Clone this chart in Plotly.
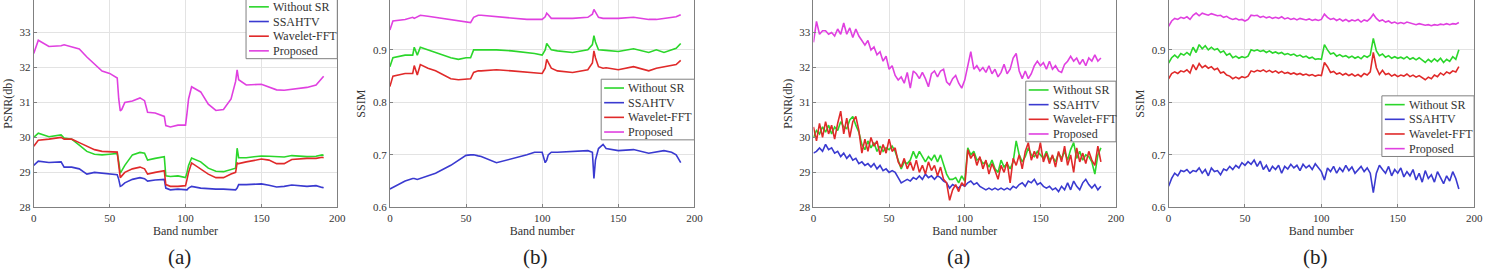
import plotly.graph_objects as go

# ---------------- data ----------------
SERIES = ["Without SR", "SSAHTV", "Wavelet-FFT", "Proposed"]
COLORS = {"Without SR": "#2bd62b", "SSAHTV": "#3a3ad0", "Wavelet-FFT": "#e02a2a", "Proposed": "#e040e0"}

# Panel 1 (PSNR, smooth)
P1_BANDS = [0, 3, 10, 18, 20, 25, 30, 35, 40, 45, 50, 55, 56, 57, 58, 60, 65, 70, 73, 75, 80, 86, 87, 90, 95,
            100, 101, 102, 104, 110, 115, 120, 125, 130, 133, 134, 135, 140, 150, 155, 160, 165, 170, 180, 186, 190, 191]
P1_WITHOUT_SR = [30.0, 30.12, 30.02, 30.07, 29.98, 29.95, 29.78, 29.6, 29.52, 29.5, 29.52, 29.54, 29.3, 28.98, 29.05,
                 29.2, 29.5, 29.57, 29.55, 29.35, 29.4, 29.45, 28.9, 28.88, 28.9, 28.85, 29.0, 29.2, 29.41, 29.3,
                 29.12, 29.03, 29.02, 29.08, 29.12, 29.69, 29.42, 29.42, 29.47, 29.46, 29.45, 29.44, 29.48, 29.45,
                 29.46, 29.5, 29.48]
P1_SSAHTV = [29.2, 29.32, 29.28, 29.3, 29.15, 29.15, 29.1, 28.95, 29.0, 28.97, 28.95, 28.93, 28.8, 28.6, 28.62,
             28.7, 28.8, 28.85, 28.82, 28.75, 28.78, 28.8, 28.55, 28.5, 28.52, 28.52, 28.5, 28.55, 28.6, 28.55,
             28.53, 28.52, 28.52, 28.52, 28.5, 28.55, 28.65, 28.65, 28.67, 28.63, 28.58, 28.6, 28.64, 28.6,
             28.62, 28.57, 28.56]
P1_WAVELET = [29.75, 29.92, 29.95, 30.0, 29.95, 29.95, 29.85, 29.75, 29.65, 29.6, 29.58, 29.58, 29.2, 28.85, 28.9,
              29.0, 29.1, 29.15, 29.1, 28.95, 29.0, 29.05, 28.65, 28.6, 28.6, 28.62, 28.8, 29.0, 29.27, 29.1,
              28.95, 28.85, 28.85, 28.95, 29.0, 29.27, 29.25, 29.3, 29.38, 29.35, 29.25, 29.25, 29.37, 29.4,
              29.4, 29.43, 29.42]
P1_PROPOSED = [32.4, 32.78, 32.6, 32.62, 32.65, 32.6, 32.53, 32.3, 32.1, 31.9, 31.83, 31.7, 31.1, 30.76, 30.8,
               31.0, 31.04, 31.13, 31.05, 30.72, 30.7, 30.6, 30.34, 30.3, 30.35, 30.35, 30.7, 31.1, 31.45, 31.3,
               30.95, 30.77, 30.8, 31.1, 31.6, 31.93, 31.65, 31.5, 31.52, 31.45, 31.36, 31.35, 31.38, 31.43,
               31.5, 31.7, 31.75]

# Panel 2 (SSIM, smooth)
P2_BANDS = [0, 2, 10, 15, 16, 18, 20, 25, 30, 40, 45, 50, 53, 55, 58, 60, 70, 80, 90, 95, 100, 102, 103, 104, 106,
            110, 120, 130, 133, 134, 135, 137, 140, 142, 150, 160, 170, 175, 180, 185, 188, 191]
P2_WITHOUT_SR = [0.868, 0.885, 0.89, 0.89, 0.905, 0.89, 0.905, 0.9, 0.895, 0.885, 0.882, 0.885, 0.885, 0.9, 0.9,
                 0.9, 0.9, 0.898, 0.895, 0.893, 0.89, 0.9, 0.912, 0.908, 0.9, 0.898, 0.895, 0.9, 0.91, 0.927,
                 0.915, 0.9, 0.9, 0.899, 0.897, 0.902, 0.895, 0.9, 0.895, 0.9, 0.903, 0.912]
P2_SSAHTV = [0.635, 0.638, 0.65, 0.655, 0.655, 0.653, 0.655, 0.66, 0.665, 0.68, 0.69, 0.699, 0.7, 0.7, 0.698,
             0.697, 0.685, 0.692, 0.7, 0.705, 0.705, 0.685, 0.69, 0.7, 0.705, 0.705, 0.707, 0.708, 0.705, 0.655,
             0.69, 0.712, 0.72, 0.712, 0.708, 0.71, 0.703, 0.706, 0.708, 0.705, 0.7, 0.685]
P2_WAVELET = [0.83, 0.85, 0.855, 0.855, 0.87, 0.852, 0.872, 0.865, 0.86, 0.845, 0.843, 0.845, 0.845, 0.857, 0.86,
              0.86, 0.862, 0.86, 0.858, 0.856, 0.855, 0.865, 0.882, 0.876, 0.865, 0.86, 0.857, 0.862, 0.875,
              0.898, 0.885, 0.868, 0.865, 0.866, 0.862, 0.868, 0.86, 0.865, 0.868, 0.87, 0.872, 0.88]
P2_PROPOSED = [0.938, 0.955, 0.958, 0.962, 0.96, 0.963, 0.966, 0.964, 0.962, 0.958, 0.956, 0.953, 0.952, 0.962,
               0.966, 0.966, 0.963, 0.961, 0.958, 0.958, 0.958, 0.963, 0.97, 0.967, 0.96, 0.96, 0.96, 0.962,
               0.968, 0.977, 0.972, 0.962, 0.96, 0.96, 0.96, 0.962, 0.958, 0.958, 0.96, 0.962, 0.963, 0.967]

# Panels 3 and 4 (noisy), every second band
NOISY_BANDS = list(range(0, 192, 2))
P3_WITHOUT_SR = [30.0, 30.2, 30.1, 30.3, 30.15, 30.35, 30.1, 30.3, 30.2, 30.45, 30.3, 30.25, 30.5, 30.6, 30.35,
                 30.15, 29.8, 29.65, 29.9, 29.7, 29.85, 29.6, 29.75, 29.6, 29.7, 29.65, 29.75, 29.6, 29.35, 29.1,
                 29.3, 29.25, 29.35, 29.6, 29.4, 29.6, 29.45, 29.3, 29.45, 29.35, 29.5, 29.3, 29.5, 29.2, 28.95,
                 28.8, 28.8, 28.85, 28.7, 28.9, 28.75, 29.7, 29.5, 29.6, 29.35, 29.4, 29.25, 29.3, 29.15, 29.35,
                 29.1, 29.0, 29.35, 29.15, 29.25, 29.1, 29.3, 29.9, 29.5, 29.3, 29.45, 29.7, 29.5, 29.45, 29.6,
                 29.5, 29.4, 29.6, 29.35, 29.45, 29.3, 29.55, 29.4, 29.6, 29.35, 29.65, 29.85, 29.4, 29.6, 29.35,
                 29.5, 29.45, 29.3, 28.95, 29.5, 29.7]
P3_SSAHTV = [29.55, 29.6, 29.7, 29.6, 29.8, 29.65, 29.7, 29.55, 29.6, 29.45, 29.55, 29.4, 29.5, 29.35, 29.4,
             29.25, 29.3, 29.2, 29.25, 29.15, 29.25, 29.1, 29.2, 29.05, 29.1, 29.0, 29.05, 29.0, 28.85, 28.7,
             28.75, 28.8, 28.75, 28.85, 28.8, 28.9, 28.8, 28.95, 28.85, 28.9, 28.8, 28.9, 28.85, 28.75, 28.7,
             28.55, 28.65, 28.6, 28.55, 28.65, 28.6, 28.7, 28.75, 28.65, 28.7, 28.6, 28.55, 28.5, 28.55, 28.5,
             28.55, 28.5, 28.55, 28.5, 28.55, 28.5, 28.6, 28.55, 28.65, 28.7, 28.6, 28.75, 28.7, 28.8, 28.65,
             28.7, 28.6, 28.55, 28.6, 28.5, 28.55, 28.45, 28.6, 28.5, 28.7, 28.5, 28.75, 28.6, 28.5, 28.7,
             28.8, 28.65, 28.55, 28.65, 28.5, 28.6]
P3_WAVELET = [30.3, 29.9, 30.4, 30.0, 30.45, 30.1, 30.35, 29.95, 30.4, 30.75, 30.1, 30.55, 30.0, 30.45, 30.6,
              30.2, 29.55, 29.95, 29.6, 30.0, 29.75, 29.9, 29.5, 29.8, 29.55, 29.95, 29.6, 29.7, 29.3, 29.15,
              29.4, 29.1, 29.3, 29.05, 29.35, 29.0, 29.2, 28.95, 29.3, 29.05, 29.2, 28.9, 29.15, 28.8, 28.7,
              28.2, 28.5, 28.65, 28.45, 28.7, 28.6, 29.65, 29.4, 29.55, 29.2, 29.45, 29.1, 29.35, 28.95, 29.25,
              29.05, 28.8, 29.2, 29.0, 29.3, 28.7, 29.4, 29.2, 29.5, 29.1, 29.6, 29.85, 29.35, 29.6, 29.4,
              29.85, 29.3, 29.55, 29.25, 29.5, 29.15, 29.6, 29.3, 29.75, 29.2, 29.5, 29.0, 29.7, 29.3, 29.55,
              29.25, 29.6, 29.35, 29.2, 29.75, 29.3]
P3_PROPOSED = [32.72, 33.32, 32.95, 33.05, 33.05, 32.95, 33.0, 32.9, 33.1, 32.95, 33.27, 32.95, 33.13, 32.86,
               33.1, 32.9, 32.77, 32.64, 32.77, 32.5, 32.59, 32.36, 32.45, 32.18, 32.32, 31.95, 32.05, 31.77,
               31.64, 31.73, 31.55, 31.86, 31.41, 31.9, 31.82, 31.68, 31.86, 31.68, 31.45, 31.82, 31.9, 31.73,
               31.9, 31.95, 31.59, 31.5, 31.68, 31.77, 31.55, 31.41, 31.64, 32.05, 32.45, 31.95, 32.05, 31.9,
               32.0, 31.86, 32.05, 31.82, 31.95, 31.73, 31.86, 32.09, 31.82, 31.95, 32.27, 32.4, 31.9, 31.68,
               31.9, 31.68, 31.82, 32.05, 32.18, 32.05, 32.14, 31.95, 32.18, 31.95, 32.05, 31.9, 31.86, 32.09,
               32.18, 32.32, 32.18, 32.27, 32.09, 32.23, 32.05, 32.27, 32.18, 32.36, 32.18, 32.27]

P4_WITHOUT_SR = [0.875, 0.885, 0.89, 0.885, 0.893, 0.89, 0.895, 0.89, 0.905, 0.895, 0.91, 0.902, 0.908, 0.9,
                 0.905, 0.9, 0.902, 0.895, 0.898, 0.89, 0.893, 0.885, 0.888, 0.884, 0.887, 0.885, 0.888, 0.9,
                 0.898, 0.9, 0.897, 0.899, 0.895, 0.898, 0.894, 0.896, 0.893, 0.895, 0.891, 0.893, 0.89, 0.892,
                 0.888, 0.89, 0.886, 0.888, 0.884, 0.886, 0.882, 0.883, 0.882, 0.91, 0.9, 0.892, 0.894, 0.888,
                 0.891, 0.887, 0.889, 0.885, 0.888, 0.884, 0.887, 0.883, 0.889, 0.886, 0.89, 0.922, 0.898, 0.889,
                 0.892, 0.886, 0.889, 0.884, 0.887, 0.884, 0.886, 0.883, 0.887, 0.882, 0.885, 0.881, 0.885, 0.88,
                 0.876, 0.882, 0.877, 0.883, 0.878, 0.884, 0.876, 0.882, 0.878, 0.887, 0.882, 0.9]
P4_SSAHTV = [0.64, 0.655, 0.665, 0.66, 0.67, 0.668, 0.672, 0.665, 0.67, 0.668, 0.675, 0.665, 0.672, 0.66, 0.675,
             0.668, 0.67, 0.662, 0.673, 0.67, 0.678, 0.672, 0.68, 0.675, 0.685, 0.68, 0.687, 0.682, 0.69, 0.678,
             0.688, 0.672, 0.68, 0.668, 0.678, 0.672, 0.68, 0.665, 0.678, 0.673, 0.682, 0.675, 0.68, 0.67,
             0.682, 0.675, 0.68, 0.672, 0.683, 0.675, 0.668, 0.652, 0.675, 0.668, 0.678, 0.665, 0.675, 0.668,
             0.68, 0.67, 0.677, 0.665, 0.672, 0.678, 0.668, 0.675, 0.665, 0.628, 0.665, 0.68, 0.672, 0.665,
             0.678, 0.66, 0.672, 0.665, 0.675, 0.658, 0.668, 0.66, 0.672, 0.652, 0.665, 0.648, 0.67, 0.655,
             0.662, 0.648, 0.668, 0.655, 0.645, 0.66, 0.65, 0.668, 0.655, 0.635]
P4_WAVELET = [0.845, 0.855, 0.858, 0.855, 0.86, 0.858, 0.862, 0.856, 0.872, 0.862, 0.874, 0.866, 0.87, 0.865,
              0.868, 0.862, 0.865, 0.856, 0.858, 0.852, 0.85, 0.845, 0.848, 0.845, 0.849, 0.847, 0.85, 0.86,
              0.858, 0.861, 0.859, 0.862, 0.858, 0.861, 0.857, 0.86, 0.856, 0.859, 0.855, 0.857, 0.854, 0.856,
              0.853, 0.855, 0.852, 0.854, 0.851, 0.853, 0.85, 0.852, 0.851, 0.876, 0.868, 0.857, 0.859, 0.854,
              0.856, 0.852, 0.855, 0.851, 0.854, 0.85, 0.853, 0.849, 0.855, 0.852, 0.858, 0.895, 0.866, 0.853,
              0.861, 0.853, 0.855, 0.85, 0.853, 0.849, 0.852, 0.85, 0.854, 0.849, 0.852, 0.848, 0.851, 0.847,
              0.843, 0.848, 0.845, 0.852, 0.849, 0.856, 0.852, 0.858, 0.855, 0.86, 0.858, 0.868]
P4_PROPOSED = [0.945, 0.955, 0.96, 0.958, 0.962, 0.96, 0.963, 0.958, 0.966, 0.97, 0.965, 0.97, 0.968, 0.966,
               0.969, 0.967, 0.965, 0.966, 0.962, 0.964, 0.96, 0.958, 0.96, 0.957, 0.958, 0.955, 0.958, 0.966,
               0.965, 0.966, 0.962, 0.964, 0.961, 0.963, 0.96, 0.962, 0.96, 0.963, 0.959, 0.961, 0.958, 0.96,
               0.957, 0.96, 0.958, 0.957, 0.959, 0.956, 0.958, 0.956, 0.958, 0.968, 0.962, 0.958, 0.96, 0.956,
               0.959, 0.955, 0.958, 0.954, 0.957, 0.955, 0.958, 0.953, 0.957, 0.955, 0.96, 0.968, 0.96, 0.955,
               0.957, 0.953, 0.955, 0.951, 0.953, 0.95, 0.952, 0.95, 0.953, 0.951, 0.95, 0.948, 0.95, 0.948,
               0.947, 0.948, 0.946, 0.948, 0.947, 0.949, 0.948, 0.95, 0.948, 0.95, 0.949, 0.952]

X_TICKS = [0, 50, 100, 150, 200]
PSNR_TICKS = [28, 29, 30, 31, 32, 33]
SSIM_TICKS = [0.6, 0.7, 0.8, 0.9]
PANEL_LABELS = ["(a)", "(b)", "(a)", "(b)"]

# ---------------- layout helpers ----------------
W, H = 1500, 272
FONT = "Liberation Serif"
TXT = "#333333"

panels = [
    dict(x0=31, x1=337, bands=P1_BANDS,
         data=[P1_WITHOUT_SR, P1_SSAHTV, P1_WAVELET, P1_PROPOSED], yr=[28, 33.93], ticks=PSNR_TICKS,
         ytitle="PSNR(db)", legend=dict(left=245, top=-2), label_x=178),
    dict(x0=390, x1=697, bands=P2_BANDS,
         data=[P2_WITHOUT_SR, P2_SSAHTV, P2_WAVELET, P2_PROPOSED], yr=[0.6, 0.995], ticks=SSIM_TICKS,
         ytitle="SSIM", legend=dict(left=603, top=81), label_x=537),
    dict(x0=817, x1=1122, bands=NOISY_BANDS,
         data=[P3_WITHOUT_SR, P3_SSAHTV, P3_WAVELET, P3_PROPOSED], yr=[28, 33.93], ticks=PSNR_TICKS,
         ytitle="PSNR(db)", legend=dict(left=1031, top=83), label_x=963),
    dict(x0=1175, x1=1483, bands=NOISY_BANDS,
         data=[P4_WITHOUT_SR, P4_SSAHTV, P4_WAVELET, P4_PROPOSED], yr=[0.6, 0.995], ticks=SSIM_TICKS,
         ytitle="SSIM", legend=dict(left=1390, top=98), label_x=1323),
]

PLOT_BOTTOM = 212
LEG_H = 62
ROW = 15


def px(x):
    return x / W


def py(y):
    return 1 - y / H


fig = go.Figure()
shapes = []
annotations = []
layout = dict(
    width=W, height=H, margin=dict(l=0, r=0, t=0, b=0),
    paper_bgcolor="white", plot_bgcolor="white",
    font=dict(family=FONT, size=11, color=TXT),
    showlegend=False,
)

for i, p in enumerate(panels):
    n = i + 1
    xa = "x" if n == 1 else f"x{n}"
    ya = "y" if n == 1 else f"y{n}"
    for name, vals in zip(SERIES, p["data"]):
        fig.add_trace(go.Scatter(
            x=p["bands"][:len(vals)], y=vals, mode="lines", name=name,
            line=dict(color=COLORS[name], width=1.6),
            xaxis=xa, yaxis=ya,
        ))
    axis_common = dict(
        showgrid=True, gridcolor="#e3e3e3", gridwidth=1,
        showline=True, linecolor="#808080", linewidth=1,
        ticks="inside", ticklen=3, tickcolor="#808080",
        zeroline=False, tickfont=dict(family=FONT, size=11, color=TXT),
    )
    layout["xaxis" if n == 1 else f"xaxis{n}"] = dict(
        axis_common, domain=[px(p["x0"]), px(p["x1"])], anchor=ya,
        range=[0, 200], tickvals=X_TICKS,
        title=dict(text="Band number", font=dict(family=FONT, size=12, color=TXT), standoff=3),
    )
    layout["yaxis" if n == 1 else f"yaxis{n}"] = dict(
        axis_common, domain=[py(PLOT_BOTTOM), 1.0], anchor=xa, mirror=True,
        range=p["yr"], tickvals=p["ticks"],
        title=dict(text=p["ytitle"], font=dict(family=FONT, size=12, color=TXT), standoff=4),
    )

    # compact legend box (MATLAB style)
    lx, ly = p["legend"]["left"], p["legend"]["top"]
    lw = p["x1"] - lx
    shapes.append(dict(type="rect", xref="paper", yref="paper",
                       x0=px(lx), x1=px(lx + lw), y0=py(ly + LEG_H), y1=py(ly),
                       line=dict(color="#808080", width=1), fillcolor="white", layer="above"))
    for k, name in enumerate(SERIES):
        cy = ly + 9 + ROW * k
        shapes.append(dict(type="line", xref="paper", yref="paper",
                           x0=px(lx + 3), x1=px(lx + 23), y0=py(cy), y1=py(cy),
                           line=dict(color=COLORS[name], width=1.6), layer="above"))
        annotations.append(dict(text=name, xref="paper", yref="paper",
                                x=px(lx + 25), y=py(cy), xanchor="left", yanchor="middle",
                                showarrow=False, font=dict(family=FONT, size=12, color=TXT)))

    annotations.append(dict(
        text=PANEL_LABELS[i], xref="paper", yref="paper",
        x=px(p["label_x"]), y=py(263), xanchor="center", yanchor="middle",
        showarrow=False, font=dict(family=FONT, size=21, color="#222222"),
    ))

layout["shapes"] = shapes
layout["annotations"] = annotations
fig.update_layout(**layout)
fig.write_html("out.html")
